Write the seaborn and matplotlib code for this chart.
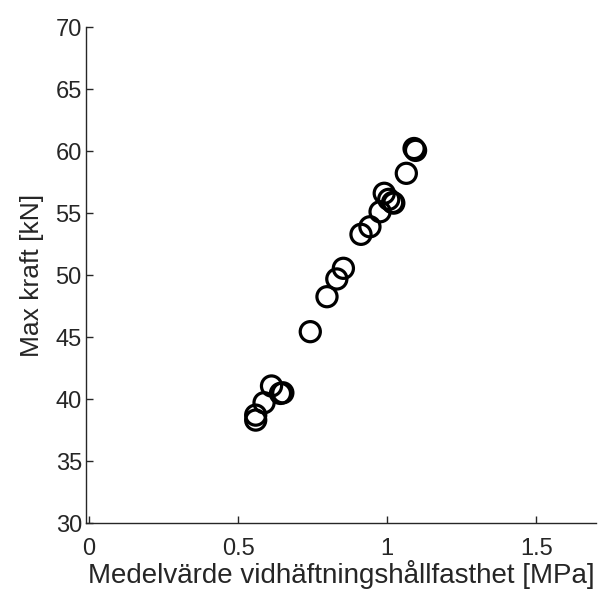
import seaborn as sns
import matplotlib.pyplot as plt
import pandas as pd

# Medelvärde vidhäftningshållfasthet [MPa] vs Max kraft [kN]
bond_strength = [0.559, 0.559, 0.587, 0.612, 0.642, 0.650, 0.742, 0.798, 0.831,
                 0.853, 0.912, 0.942, 0.976, 0.990, 1.005, 1.018, 1.022, 1.064,
                 1.090, 1.095]
max_force = [38.3, 38.7, 39.7, 41.05, 40.45, 40.5, 45.43, 48.25, 49.68,
             50.54, 53.28, 53.89, 55.1, 56.59, 56.1, 55.85, 55.8, 58.2,
             60.2, 60.05]

x_ticks = [0, 0.5, 1, 1.5]
x_tick_labels = ["0", "0.5", "1", "1.5"]
y_ticks = [30, 35, 40, 45, 50, 55, 60, 65, 70]

df = pd.DataFrame({"x": bond_strength, "y": max_force})

sns.set_theme(style="white")
plt.rcParams["font.family"] = ["Liberation Sans", "DejaVu Sans"]
text_col = "#262626"

fig = plt.figure(figsize=(6.1, 5.94), dpi=100)
ax = fig.add_axes([86 / 610, 71 / 594, 510 / 610, 496 / 594])

sns.scatterplot(data=df, x="x", y="y", ax=ax, s=210, marker="o",
                facecolors="none", edgecolor="black", linewidth=2.3)

ax.set_xlim(-0.01, 1.7)
ax.set_ylim(30, 70)
ax.set_xticks(x_ticks)
ax.set_xticklabels(x_tick_labels)
ax.set_yticks(y_ticks)

for side in ["top", "right"]:
    ax.spines[side].set_visible(False)
for side in ["left", "bottom"]:
    ax.spines[side].set_color(text_col)
    ax.spines[side].set_linewidth(1.0)

ax.tick_params(direction="in", length=5, width=1, colors=text_col,
               labelsize=17, left=True, bottom=True, pad=3)
ax.tick_params(axis="x", pad=11)
ax.set_xlabel("Medelvärde vidhäftningshållfasthet [MPa]", fontsize=20,
              color=text_col, labelpad=0)
ax.set_ylabel("Max kraft [kN]", fontsize=19, color=text_col, labelpad=8)

fig.savefig("out.png", dpi=100)
